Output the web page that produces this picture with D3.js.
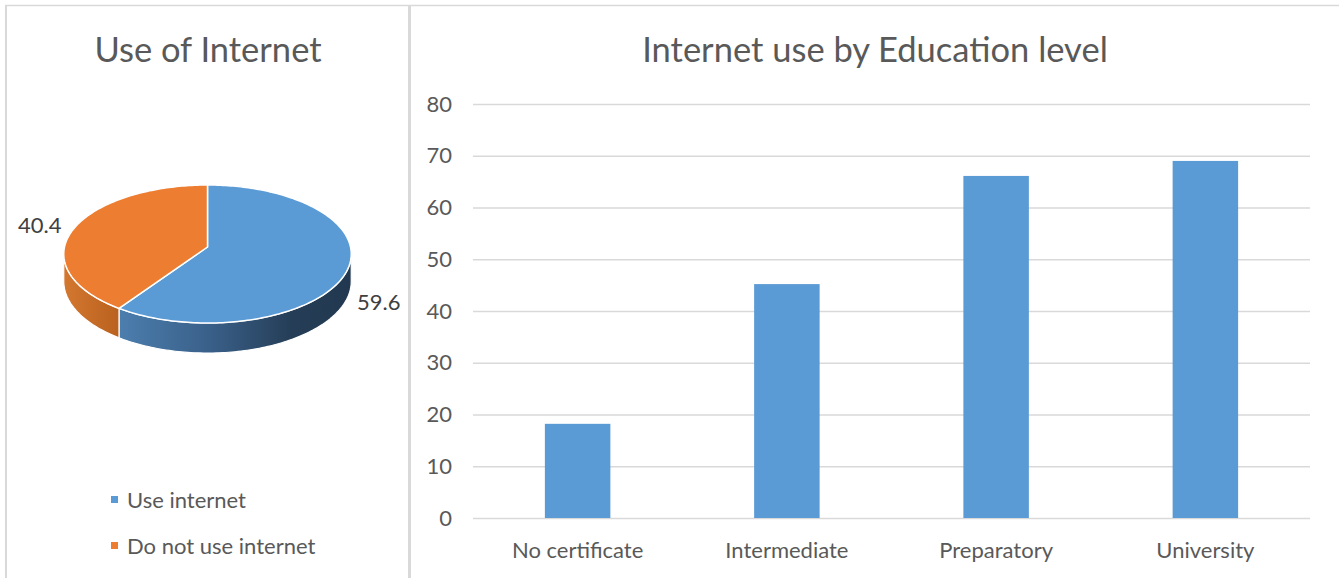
<!DOCTYPE html>
<html>
<head>
<meta charset="utf-8">
<script src="https://cdn.jsdelivr.net/npm/d3@7"></script>
<style>
  html, body { margin: 0; padding: 0; background: #ffffff; }
  svg { display: block; font-family: "Lato", "Open Sans", sans-serif; }
</style>
</head>
<body>
<svg id="chart" width="1339" height="578"></svg>
<script>
// ---- data ----
const pieLabels = ["Use internet", "Do not use internet"];
const pieValues = [59.6, 40.4];
const pieColors = ["#5b9bd5", "#ed7d31"];

const eduCategories = ["No certificate", "Intermediate", "Preparatory", "University"];
const eduValues = [18.2, 45.2, 66.1, 69.0];
const yTicks = [0, 10, 20, 30, 40, 50, 60, 70, 80];

const svg = d3.select("#chart");
const textColor = "#595959";
const lineColor = "#d9d9d9";
const titleSize = 34.5;
const labelSize = 22;

// ---- panel frames ----
svg.append("line").attr("x1", 5).attr("x2", 1339).attr("y1", 5.5).attr("y2", 5.5)
  .attr("stroke", lineColor).attr("stroke-width", 1.5);
svg.append("line").attr("x1", 6).attr("x2", 6).attr("y1", 5).attr("y2", 578)
  .attr("stroke", lineColor).attr("stroke-width", 2);
svg.append("line").attr("x1", 409.5).attr("x2", 409.5).attr("y1", 5).attr("y2", 578)
  .attr("stroke", lineColor).attr("stroke-width", 3);

// ---- left panel: 3D pie ----
const left = svg.append("g");
left.append("text").attr("x", 208).attr("y", 62).attr("text-anchor", "middle")
  .attr("font-size", titleSize).attr("fill", textColor).text("Use of Internet");

const defs = svg.append("defs");
const gBlue = defs.append("linearGradient").attr("id", "sideBlue")
  .attr("gradientUnits", "userSpaceOnUse").attr("x1", 119).attr("x2", 351).attr("y1", 0).attr("y2", 0);
[["0%", "#4c7eae"], ["40%", "#395f88"], ["75%", "#253d56"], ["100%", "#213850"]]
  .forEach(([o, c]) => gBlue.append("stop").attr("offset", o).attr("stop-color", c));
const gOrange = defs.append("linearGradient").attr("id", "sideOrange")
  .attr("gradientUnits", "userSpaceOnUse").attr("x1", 63).attr("x2", 119).attr("y1", 0).attr("y2", 0);
[["0%", "#d47830"], ["100%", "#b9611f"]]
  .forEach(([o, c]) => gOrange.append("stop").attr("offset", o).attr("stop-color", c));
const sideFills = ["url(#sideBlue)", "url(#sideOrange)"];

// tilted disc with mild perspective: angle 0 at the back, clockwise
const pcx = 207.5, pcy = 247, prx = 143, pry = 68.3, persp = 0.1014, depth = 27;
function proj(theta, drop) {
  const u = Math.sin(theta), v = -Math.cos(theta);
  const s = 1 / (1 - persp * v);
  return [pcx + prx * u * s, pcy + pry * v * s + (drop ? depth * s : 0)];
}
function arcPoints(a0, a1, drop) {
  const n = Math.max(2, Math.ceil(Math.abs(a1 - a0) / 0.02));
  return d3.range(n + 1).map(i => proj(a0 + (a1 - a0) * i / n, drop));
}

const arcs = d3.pie().sort(null).value(d => d)(pieValues);
const sideFrom = Math.acos(-persp), sideTo = 2 * Math.PI - Math.acos(-persp);
const line = d3.line();

// outer walls
arcs.forEach((a, i) => {
  const s0 = Math.max(a.startAngle, sideFrom), s1 = Math.min(a.endAngle, sideTo);
  if (s1 <= s0) return;
  const pts = arcPoints(s0, s1, false).concat(arcPoints(s1, s0, true));
  left.append("path").attr("d", line(pts) + "Z")
    .attr("fill", sideFills[i]).attr("stroke", "#ffffff").attr("stroke-width", 1.2)
    .attr("stroke-linejoin", "round");
});
// top faces
arcs.forEach((a, i) => {
  const pts = [[pcx, pcy]].concat(arcPoints(a.startAngle, a.endAngle, false));
  left.append("path").attr("d", line(pts) + "Z")
    .attr("fill", pieColors[i]).attr("stroke", "#ffffff").attr("stroke-width", 1.5)
    .attr("stroke-linejoin", "round");
});

// value labels
left.append("text").attr("x", 18).attr("y", 233).attr("font-size", labelSize)
  .attr("fill", "#404040").text(pieValues[1].toFixed(1));
left.append("text").attr("x", 357).attr("y", 310).attr("font-size", labelSize)
  .attr("fill", "#404040").text(pieValues[0].toFixed(1));

// legend
const legend = left.selectAll("g.legend").data(pieLabels).join("g")
  .attr("class", "legend")
  .attr("transform", (d, i) => `translate(111, ${500 + i * 46})`);
legend.append("rect").attr("x", 0).attr("y", -4).attr("width", 7).attr("height", 7)
  .attr("fill", (d, i) => pieColors[i]);
legend.append("text").attr("x", 16).attr("y", 8).attr("font-size", labelSize)
  .attr("fill", textColor).text(d => d);

// ---- right panel: bar chart ----
const plot = { left: 473, right: 1310, top: 104, bottom: 518 };
svg.append("text").attr("x", 875).attr("y", 62).attr("text-anchor", "middle")
  .attr("font-size", titleSize).attr("fill", textColor).text("Internet use by Education level");

const x = d3.scaleBand().domain(eduCategories).range([plot.left, plot.right])
  .paddingInner(0.687).paddingOuter(0.3435);
const y = d3.scaleLinear().domain([0, 80]).range([plot.bottom, plot.top]);

const yAxis = svg.append("g").attr("transform", `translate(${plot.left},0)`)
  .call(d3.axisLeft(y).tickValues(yTicks).tickSize(-(plot.right - plot.left)).tickPadding(21));
yAxis.select(".domain").remove();
yAxis.selectAll(".tick line").attr("stroke", lineColor).attr("stroke-width", 1.5);
yAxis.selectAll(".tick text").attr("font-size", labelSize).attr("fill", textColor)
  .attr("font-family", "Lato, 'Open Sans', sans-serif");

svg.append("g").selectAll("rect").data(eduValues).join("rect")
  .attr("x", (d, i) => x(eduCategories[i]))
  .attr("width", x.bandwidth())
  .attr("y", d => y(d))
  .attr("height", d => y(0) - y(d))
  .attr("fill", "#5b9bd5");

const xAxis = svg.append("g").attr("transform", `translate(0,${plot.bottom})`)
  .call(d3.axisBottom(x).tickSize(0).tickPadding(24));
xAxis.select(".domain").remove();
xAxis.selectAll(".tick text").attr("font-size", labelSize).attr("fill", textColor)
  .attr("font-family", "Lato, 'Open Sans', sans-serif");
</script>
</body>
</html>
